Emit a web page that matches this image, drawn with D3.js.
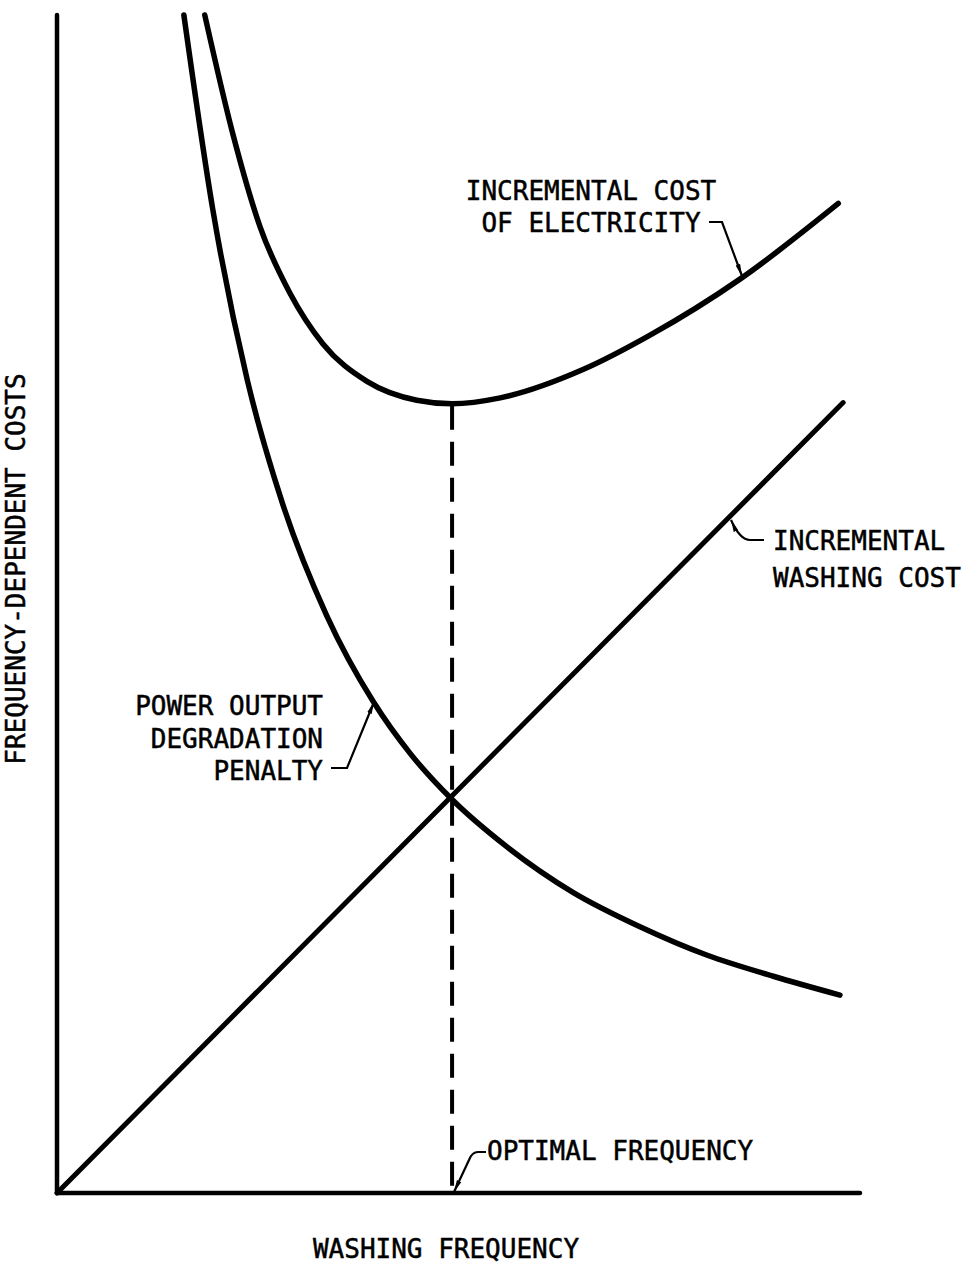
<!DOCTYPE html>
<html>
<head>
<meta charset="utf-8">
<script src="https://cdn.jsdelivr.net/npm/d3@7"></script>
<style>
  body { margin: 0; background: #fff; }
  text { font-family: "DejaVu Sans Mono", monospace; fill: #000; stroke: #000; stroke-width: 0.5px; }
</style>
</head>
<body>
<svg width="966" height="1265" viewBox="0 0 966 1265"></svg>
<script>
// values (arbitrary units, 0-100 on both axes)
var penaltyX = [15.8, 19.4, 23.7, 28.1, 33.6, 39.4, 44.0, 49.2, 56.0, 64.3, 72.6, 80.9, 89.2, 97.5];
var penaltyY = [100, 83.5, 69.0, 58.5, 49.0, 41.7, 37.3, 33.4, 29.4, 25.5, 22.6, 20.2, 18.4, 16.8];
var totalX = [18.4, 21.9, 25.3, 29.0, 33.1, 38.6, 44.8, 49.2, 55.2, 65.5, 73.8, 85.1, 97.3];
var totalY = [100, 89.9, 82.0, 76.4, 72.1, 68.9, 67.3, 67.0, 67.5, 69.9, 72.8, 77.6, 84.0];
var washX = [0, 97.9];
var washY = [0, 67.1];
var optimalX = 49.2;
var optimalY = 67.0;

var svg = d3.select("svg");

var x = d3.scaleLinear().domain([0, 100]).range([57, 860]);
var y = d3.scaleLinear().domain([0, 100]).range([1193, 15]);

function zip(xs, ys) {
  return xs.map(function(v, i) { return [v, ys[i]]; });
}

var line = d3.line()
    .x(function(d) { return x(d[0]); })
    .y(function(d) { return y(d[1]); })
    .curve(d3.curveMonotoneX);

// arrow head for the leader lines
svg.append("defs").append("marker")
    .attr("id", "arrow")
    .attr("viewBox", "0 0 12 6")
    .attr("refX", 12)
    .attr("refY", 3)
    .attr("markerWidth", 12)
    .attr("markerHeight", 6)
    .attr("markerUnits", "userSpaceOnUse")
    .attr("orient", "auto")
  .append("path")
    .attr("d", "M0,0.6 L12,3 L0,5.4 Z")
    .attr("fill", "#000");

// axes
svg.append("path")
    .attr("d", "M" + x(0) + "," + y(100) + " L" + x(0) + "," + y(0) + " L" + x(100) + "," + y(0))
    .attr("fill", "none")
    .attr("stroke", "#000")
    .attr("stroke-width", 4.5)
    .attr("stroke-linecap", "round")
    .attr("stroke-linejoin", "round");

// dashed optimum line
svg.append("line")
    .attr("x1", x(optimalX)).attr("x2", x(optimalX))
    .attr("y1", y(optimalY) + 2).attr("y2", y(0))
    .attr("stroke", "#000")
    .attr("stroke-width", 4)
    .attr("stroke-dasharray", "24,12");

// curves
var series = [zip(washX, washY), zip(penaltyX, penaltyY), zip(totalX, totalY)];
svg.selectAll("path.curve")
    .data(series)
    .enter()
    .append("path")
    .attr("class", "curve")
    .attr("d", line)
    .attr("fill", "none")
    .attr("stroke", "#000")
    .attr("stroke-width", function(d, i) { return i == 0 ? 5 : 5.5; })
    .attr("stroke-linecap", "round");

// labels
function label(lines, lx, ly, anchor, gap) {
  var t = svg.append("text")
      .attr("font-size", 26)
      .attr("text-anchor", anchor);
  lines.forEach(function(s, i) {
    t.append("tspan").attr("x", lx).attr("y", ly + i * gap).text(s);
  });
}

label(["INCREMENTAL COST", "OF ELECTRICITY"], 591, 200, "middle", 32);
label(["INCREMENTAL", "WASHING COST"], 773, 550, "start", 37);
label(["POWER OUTPUT", "DEGRADATION", "PENALTY"], 323, 715, "end", 32.5);
label(["OPTIMAL FREQUENCY"], 487, 1160, "start", 0);

svg.append("text")
    .attr("font-size", 26)
    .attr("text-anchor", "middle")
    .attr("x", 446).attr("y", 1258)
    .text("WASHING FREQUENCY");

svg.append("text")
    .attr("font-size", 26)
    .attr("text-anchor", "middle")
    .attr("transform", "translate(25,569) rotate(-90)")
    .text("FREQUENCY-DEPENDENT COSTS");

// leader lines
var leader = function(d) {
  svg.append("path")
      .attr("d", d)
      .attr("fill", "none")
      .attr("stroke", "#000")
      .attr("stroke-width", 2.2)
      .attr("marker-end", "url(#arrow)");
};
leader("M709,222 L722,222 L742,276");
leader("M764,540 L750,540 Q740,540 731,520");
leader("M331,768 L347,768 L374,702");
leader("M486,1152 L478,1152 Q472,1152 469,1160 L454,1192");
</script>
</body>
</html>
